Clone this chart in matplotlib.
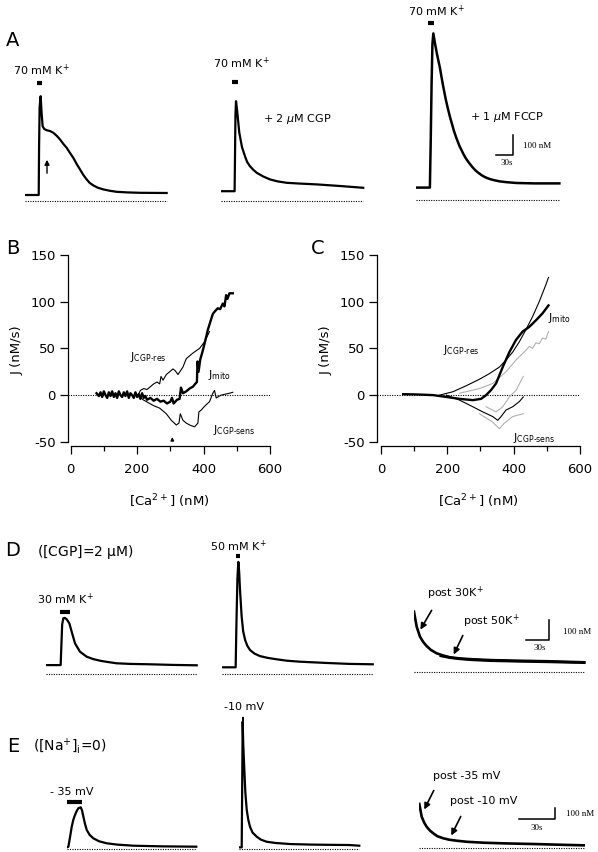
import numpy as np
import matplotlib
matplotlib.use('Agg')
import matplotlib.pyplot as plt
import matplotlib.transforms as mtrans

plt.rcParams['axes.unicode_minus'] = False

# ---- data: traces are time (s) vs [Ca2+] above the dotted line (nM) ----
# row A, 70 mM K+ (control, +CGP, +FCCP)
a1_t = [0, 24.2, 24.8, 25.8, 27.6, 29.3, 31.1, 34, 38.2, 44, 50, 56, 61.7, 67, 73.5, 79, 85.2,
        91, 97, 103, 108.8, 114, 120.5, 128, 138, 150, 161.7, 180, 202.8, 250]
a1_ca = [30, 30, 260, 470, 524, 440, 374, 360, 354, 350, 341, 326, 308, 288, 266, 242, 216,
         186, 158, 130, 108, 91, 78, 67, 58, 51, 46, 43, 41, 40]
a2_t = [0, 24.0, 24.7, 25.5, 26.5, 28.5, 32.3, 37, 42.3, 46, 51.1, 57, 63, 75, 86.4, 100, 116,
        140, 168.8, 210, 251]
a2_ca = [49, 49, 220, 430, 499, 450, 341, 270, 224, 196, 174, 156, 141, 122, 108, 98, 91, 87,
         83, 75, 66]
a3_t = [0, 24.5, 26, 27.5, 29, 30.6, 33.5, 37, 40, 42.3, 45, 48, 52.4, 56, 60, 64, 67, 71, 74,
        77, 80.6, 84, 88, 92, 95.2, 100, 105, 110, 115.8, 122, 130, 138, 148, 160, 177.6, 210, 253]
a3_ca = [62, 62, 300, 580, 780, 833, 783, 730, 690, 660, 615, 568, 505, 460, 415, 375, 345,
         312, 290, 268, 248, 228, 208, 192, 180, 163, 148, 136, 124, 114, 105, 99, 93, 89, 85,
         83, 83]

# panel B: J vs [Ca2+]
b_mito_x = [78, 85, 90, 95, 100, 105, 110, 115, 120, 125, 130, 135, 140, 145, 150, 155, 160, 165,
            170, 175, 180, 185, 190, 195, 200, 205, 210, 215, 220, 225, 230, 240, 250, 260, 270,
            280, 290, 300, 305, 310, 320, 328, 332, 338, 348, 358, 368, 375, 380, 382, 385, 390,
            398, 405, 413, 420, 428, 435, 443, 450, 458, 463, 468, 472, 478, 488]
b_mito_y = [2, -1, 3, -2, 4, 0, -3, 3, -1, 4, -2, 2, -3, 4, 0, -2, 3, -1, 4, -3, 2, 0, -3, 3, -2,
            1, -4, 2, -3, -1, -5, -3, -6, -4, -7, -6, -9, -7, -3, -9, -5, -4, 8, 2, 4, 7, 9, 12,
            14, 36, 25, 38, 48, 58, 70, 78, 87, 90, 93, 92, 98, 95, 107, 103, 109, 109]
b_res_x = [203, 210, 220, 230, 240, 250, 260, 268, 272, 278, 288, 298, 308, 315, 323, 338, 348,
           368, 388, 403, 418]
b_res_y = [0, 5, 7, 6, 9, 12, 14, 12, 20, 16, 22, 25, 28, 26, 22, 30, 39, 45, 50, 57, 68]
b_sens_x = [203, 218, 248, 268, 288, 303, 318, 326, 330, 338, 348, 358, 373, 383, 386, 393, 403,
            418, 428, 433, 438, 453, 478, 488]
b_sens_y = [0, -5, -11, -14, -20, -27, -32, -30, -20, -27, -30, -32, -34, -30, -18, -16, -12,
            -7, 2, 5, -3, 0, 2, 3]

# panel C: averaged J vs [Ca2+] (black = mean, grey = +/- SE)
c_mito_x = [67, 107, 157, 197, 237, 277, 302, 317, 332, 347, 367, 387, 407, 427, 447, 467, 487, 505]
c_mito_y = [1, 0.7, 0, -2, -4, -5.4, -4, 0, 5.4, 12.5, 30, 46, 59, 68, 73, 80, 87.5, 96]
c_res_x = [177, 217, 257, 297, 327, 357, 377, 397, 417, 437, 457, 477, 497, 505]
c_res_y = [0, 3.6, 10, 17, 23, 30, 37.5, 46, 57, 70, 84, 100, 118, 126]
c_res_se_x = [237, 297, 337, 377, 407, 437, 447, 457, 467, 477, 487, 497, 505]
c_res_se_y = [2, 7, 12.5, 25, 37.5, 48, 52, 50, 56, 55, 61, 60, 68]
c_sens_x = [197, 237, 277, 307, 337, 352, 362, 377, 397, 417, 429]
c_sens_y = [0, -5.4, -12.5, -18, -23, -27, -23, -16, -12.5, -7, -2]
c_sens_hi_x = [317, 347, 367, 387, 407, 429]
c_sens_hi_y = [-12.5, -18, -12.5, -2, 5, 20]
c_sens_lo_x = [297, 337, 357, 372, 397, 417, 429]
c_sens_lo_y = [-20, -29, -36, -30, -23, -21, -20]

# row D, [CGP] = 2 uM
d1_t = [0, 19.5, 20.5, 21.5, 23, 25, 27.4, 30.8, 33.9, 38.2, 44.7, 53.5, 62, 70.8, 80, 92.6, 110,
        136, 165, 197]
d1_ca = [46, 46, 150, 250, 280, 282, 275, 255, 213, 155, 113, 88, 76, 68, 62, 55, 52, 50, 47, 45]
d2_t = [0, 18.2, 19.2, 20.5, 21.7, 22.8, 23.9, 26, 28, 30.6, 33.5, 37, 43, 50, 60, 71.7, 85, 102,
        135, 167, 197]
d2_ca = [35, 35, 250, 480, 562, 510, 421, 290, 215, 171, 142, 121, 103, 91, 82, 75, 68, 63, 57,
         52, 50]
d3a_t = [0, 3.5, 7.8, 12, 16.5, 22, 29.5, 38, 47, 60, 77.4, 100, 134, 177, 222]
d3a_ca = [303, 228, 178, 152, 131, 112, 95, 84, 75, 69, 65, 61, 58, 55, 50]
d3b_t = [35, 47, 60, 77, 100, 134, 177, 222]
d3b_ca = [82, 73, 67, 62, 58, 55, 52, 48]

# row E, [Na+]i = 0
e1_t = [0, 1.4, 2.8, 4.2, 5.5, 6.9, 8.3, 9.7, 11.7, 12.8, 13.9, 15.2, 16.7, 19, 22.2, 27, 33.3,
        42, 55.5, 80, 108]
e1_ca = [15, 21, 110, 203, 265, 309, 345, 370, 379, 350, 294, 230, 173, 130, 97, 70, 52, 40, 30,
         24, 21]
e2_t = [0, 2.0, 2.5, 2.8, 3.3, 4.2, 5.0, 6.2, 7.5, 8.9, 11, 14.5, 18, 22.8, 30, 42.3, 60, 75, 92, 100]
e2_ca = [15, 15, 700, 1157, 950, 718, 520, 355, 265, 203, 150, 112, 85, 66, 55, 45, 40, 38, 36, 30]
e3_t = [0, 2, 4, 6.1, 9, 11.7, 15, 20, 25, 31, 40, 53.3, 70, 95, 115, 137]
e3_ca = [403, 287, 235, 196, 160, 136, 110, 91, 78, 69, 59, 51, 45, 39, 33, 27]

FW, FH = 598, 852
fig = plt.figure(figsize=(FW / 100, FH / 100), dpi=100)
fig.patch.set_facecolor('white')


def fx(X):
    return X / FW


def fy(Y):
    return 1 - Y / FH


def label(X, Y, s, size=8, ha='center', **kw):
    fig.text(fx(X), fy(Y), s, ha=ha, va='center', fontsize=size, **kw)


def trace_ax(x0, y0, top, w, px_s, px_nM):
    # axes whose data units are s and nM, dotted zero line at pixel row y0
    ax = fig.add_axes([fx(x0), fy(y0 + 8), w / FW, (y0 + 8 - top) / FH])
    ax.set_xlim(0, w / px_s)
    ax.set_ylim(-8 / px_nM, (y0 - top) / px_nM)
    ax.axis('off')
    ax.px = (x0, y0, px_s, px_nM)
    return ax


def trace(ax, t, ca, lw=1.6):
    ax.plot(t, ca, color='k', lw=lw, solid_joinstyle='round')
    ax.plot([t[0], t[-1]], [0, 0], color='k', lw=0.8, ls=(0, (1, 1.2)))


def stim(ax, t0, t1, Y, lw=3):
    tr = mtrans.blended_transform_factory(ax.transData, fig.transFigure)
    ax.plot([t0, t1], [fy(Y), fy(Y)], transform=tr, color='k', lw=lw,
            solid_capstyle='butt', clip_on=False)


def scalebar(ax, Xc, Yc, dt=30, dca=100):
    x0, y0, px_s, px_nM = ax.px
    tc = (Xc - x0) / px_s
    cc = (y0 - Yc) / px_nM
    ax.plot([tc - dt, tc, tc], [cc, cc, cc + dca], color='k', lw=1.1, clip_on=False)


def arrow(X1, Y1, X2, Y2, ms=9, lw=1.2):
    fig.add_artist(matplotlib.patches.FancyArrowPatch(
        (X1, FH - Y1), (X2, FH - Y2), transform=None, arrowstyle='-|>',
        mutation_scale=ms, lw=lw, color='k'))


serif = 'Liberation Serif'

# ---------------- row A ----------------
pxA_s, pxA_n = 17 / 30, 0.2
axA1 = trace_ax(25, 201, 5, 150, pxA_s, pxA_n)
trace(axA1, a1_t, a1_ca)
stim(axA1, 20.6, 30.5, 83)
axA2 = trace_ax(221, 201, 5, 150, pxA_s, pxA_n)
trace(axA2, a2_t, a2_ca)
stim(axA2, 20, 30.5, 82)
axA3 = trace_ax(416, 200, 5, 150, pxA_s, pxA_n)
trace(axA3, a3_t, a3_ca, lw=1.8)
stim(axA3, 20.6, 32, 23)
scalebar(axA3, 513, 155)

label(13, 40, 'A', size=14)
label(41, 70, '70 mM K$^{+}$')
label(241, 63, '70 mM K$^{+}$')
label(436, 11, '70 mM K$^{+}$')
label(297, 119, '+ 2 $\\mu$M CGP')
label(507, 117, '+ 1 $\\mu$M FCCP')
label(537, 146, '100 nM', size=6.5, family=serif)
label(507, 163, '30s', size=6.5, family=serif)
arrow(47, 176, 47, 157, ms=7, lw=1.0)


# ---------------- rows B / C ----------------
def jplot(rect, xmin):
    ax = fig.add_axes(rect)
    ax.set_xlim(xmin, 600)
    ax.set_ylim(-54.5, 150)
    ax.spines['top'].set_visible(False)
    ax.spines['right'].set_visible(False)
    ax.spines['left'].set_bounds(-50, 150)
    ax.spines['bottom'].set_bounds(0, 600)
    for s in ['left', 'bottom']:
        ax.spines[s].set_linewidth(0.9)
    ax.set_xticks([0, 200, 400, 600])
    ax.set_xticks([100, 300, 500], minor=True)
    ax.set_yticks([-50, 0, 50, 100, 150])
    ax.tick_params(direction='out', length=6, width=0.9, labelsize=9.5, pad=3)
    ax.tick_params(axis='x', pad=6)
    ax.tick_params(which='minor', direction='out', length=3.5, width=0.9)
    ax.axhline(0, xmin=0, xmax=1, color='k', lw=0.8, ls=(0, (1, 1.2)))
    ax.set_xlabel('[Ca$^{2+}$] (nM)', fontsize=9.5, labelpad=12)
    ax.set_ylabel('J (nM/s)', fontsize=9.5, labelpad=5)
    return ax


axB = jplot([fx(68.3), fy(446), (270 - 68.3) / FW, (446 - 255) / FH], -7)
axB.plot(b_res_x, b_res_y, color='k', lw=0.8)
axB.plot(b_sens_x, b_sens_y, color='k', lw=0.8)
axB.plot(b_mito_x, b_mito_y, color='k', lw=1.7)
axB.annotate('', xy=(306, -42), xytext=(306, -51),
             arrowprops=dict(arrowstyle='-|>', lw=0.8, color='k', mutation_scale=5))
label(13, 249, 'B', size=14)
label(130, 357, 'J$_{\\mathrm{CGP\\text{-}res}}$', ha='left')
label(208, 375, 'J$_{\\mathrm{mito}}$', ha='left')
label(213, 430, 'J$_{\\mathrm{CGP\\text{-}sens}}$', ha='left')

axC = jplot([fx(377.3), fy(446), (580 - 377.3) / FW, (446 - 255) / FH], -11)
grey = '#b0b0b0'
axC.plot(c_res_se_x, c_res_se_y, color=grey, lw=0.8)
axC.plot(c_sens_hi_x, c_sens_hi_y, color=grey, lw=0.8)
axC.plot(c_sens_lo_x, c_sens_lo_y, color=grey, lw=0.8)
axC.plot(c_res_x, c_res_y, color='k', lw=0.8)
axC.plot(c_sens_x, c_sens_y, color='k', lw=0.8)
axC.plot(c_mito_x, c_mito_y, color='k', lw=1.7)
label(318, 249, 'C', size=14)
label(443, 350, 'J$_{\\mathrm{CGP\\text{-}res}}$', ha='left')
label(548, 318, 'J$_{\\mathrm{mito}}$', ha='left')
label(513, 438, 'J$_{\\mathrm{CGP\\text{-}sens}}$', ha='left')

# ---------------- row D ----------------
pxD_s, pxD_n = 23 / 30, 0.2
axD1 = trace_ax(45.7, 674.3, 540, 160, pxD_s, pxD_n)
trace(axD1, d1_t, d1_ca)
stim(axD1, 18.6, 31.7, 611.7)
axD2 = trace_ax(221.7, 674.3, 540, 160, pxD_s, pxD_n)
trace(axD2, d2_t, d2_ca)
stim(axD2, 18.3, 24, 556)
axD3 = trace_ax(414, 672.3, 540, 175, pxD_s, pxD_n)
trace(axD3, d3a_t, d3a_ca, lw=1.9)
axD3.plot(d3b_t, d3b_ca, color='k', lw=1.9)
scalebar(axD3, 549.3, 640)

label(13, 551, 'D', size=14)
label(37, 552, '([CGP]=2 $\\mathregular{\\mu}$M)', size=10, ha='left')
label(65, 599, '30 mM K$^{+}$')
label(238, 546, '50 mM K$^{+}$')
label(455, 593, 'post 30K$^{+}$')
label(491, 621, 'post 50K$^{+}$')
label(577, 632, '100 nM', size=6.5, family=serif)
label(540, 648, '30s', size=6.5, family=serif)
arrow(433, 608, 419, 632)
arrow(464, 633, 452.5, 657)

# ---------------- row E ----------------
pxE_s, pxE_n = 36 / 30, 0.11
axE1 = trace_ax(66.7, 849, 700, 135, pxE_s, pxE_n)
trace(axE1, e1_t, e1_ca)
stim(axE1, 0, 12.5, 801.7)
axE2 = trace_ax(239.3, 849, 700, 125, pxE_s, pxE_n)
trace(axE2, e2_t, e2_ca)
stim(axE2, 2.3, 4.3, 719)
axE3 = trace_ax(419.3, 848.3, 700, 170, pxE_s, pxE_n)
trace(axE3, e3_t, e3_ca, lw=1.9)
scalebar(axE3, 555, 819)

label(13, 746, 'E', size=14)
label(33, 746, '([Na$^{+}$]$_{\\mathregular{i}}$=0)', size=10, ha='left')
label(72, 792, '- 35 mV')
label(244, 707, '-10 mV')
label(467, 776, 'post -35 mV')
label(484, 801, 'post -10 mV')
label(580, 814, '100 nM', size=6.5, family=serif)
label(537, 828, '30s', size=6.5, family=serif)
arrow(435, 788, 423, 812)
arrow(462, 814, 450, 838)

fig.savefig('out.png', dpi=100, facecolor='white')
